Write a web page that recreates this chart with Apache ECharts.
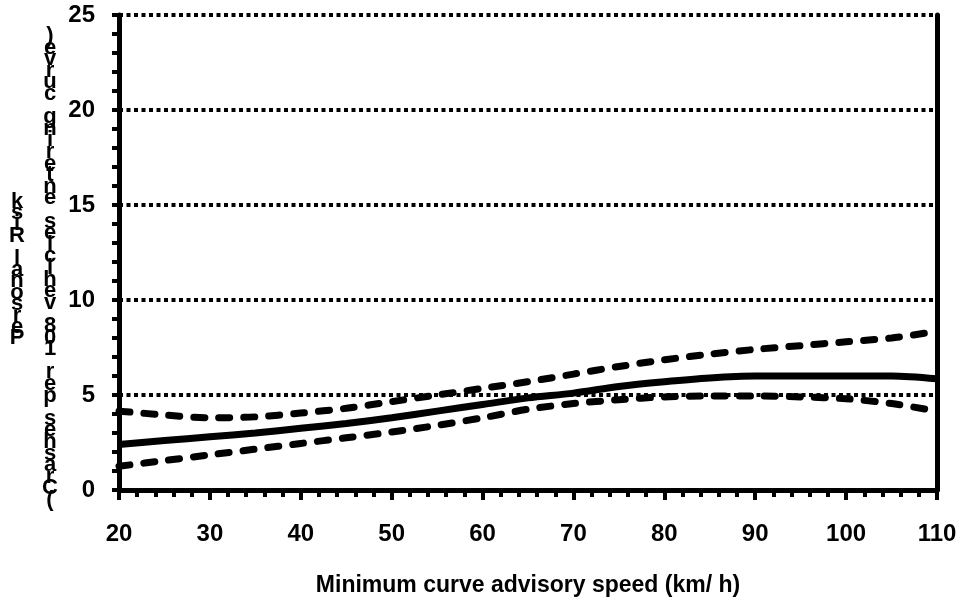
<!DOCTYPE html>
<html>
<head>
<meta charset="utf-8">
<script src="https://cdn.jsdelivr.net/npm/echarts@6/dist/echarts.min.js"></script>
<style>
  html, body { margin: 0; padding: 0; background: #fff; }
  #chart { width: 961px; height: 604px; }
</style>
</head>
<body>
<div id="chart"></div>
<script>
// Minimum curve advisory speed (km/h)
var speeds = [20, 25, 30, 35, 40, 45, 50, 55, 60, 65, 70, 75, 80, 85, 90, 95, 100, 105, 110];
// Expected personal risk
var riskMean  = [2.4, 2.6, 2.8, 3.0, 3.25, 3.5, 3.8, 4.15, 4.5, 4.85, 5.1, 5.45, 5.7, 5.9, 6.0, 6.0, 6.0, 6.0, 5.85];
// Upper and lower bounds
var riskUpper = [4.15, 3.95, 3.8, 3.85, 4.05, 4.3, 4.65, 5.0, 5.35, 5.7, 6.1, 6.5, 6.85, 7.15, 7.4, 7.6, 7.8, 8.0, 8.35];
var riskLower = [1.25, 1.55, 1.85, 2.15, 2.45, 2.75, 3.05, 3.4, 3.8, 4.25, 4.55, 4.75, 4.9, 4.95, 4.95, 4.9, 4.8, 4.55, 4.15];

var xTickValues = [20, 30, 40, 50, 60, 70, 80, 90, 100, 110];
var yTickValues = [0, 5, 10, 15, 20, 25];

var xTitle = 'Minimum curve advisory speed (km/ h)';
var yTitleOuter = 'Personal Risk';
var yTitleInner = '(Crashes per 108 vehicles entering curve)';

var FONT = '"Liberation Sans", Arial, sans-serif';

function pairs(ys) {
  return speeds.map(function (x, i) { return [x, ys[i]]; });
}
// characters stacked one per line, read from the bottom up
function stacked(s) {
  return s.split('').reverse().join('\n');
}

var chart = echarts.init(document.getElementById('chart'), null, { renderer: 'canvas' });

var labelStyle = { color: '#000', fontFamily: FONT, fontWeight: 'bold', fontSize: 24 };
var dashStyle = { color: '#000', width: 7, type: [11, 14], cap: 'round' };

chart.setOption({
  animation: false,
  backgroundColor: '#fff',
  grid: { left: 119, right: 24, top: 15, bottom: 114 },
  xAxis: {
    type: 'value',
    min: xTickValues[0],
    max: xTickValues[xTickValues.length - 1],
    interval: 10,
    axisLine: { show: true, onZero: false, lineStyle: { color: '#000', width: 5 } },
    axisTick: { show: true, length: 10, lineStyle: { color: '#000', width: 4 } },
    minorTick: { show: true, splitNumber: 5, length: 7, lineStyle: { color: '#000', width: 4 } },
    splitLine: { show: false },
    axisLabel: Object.assign({ margin: 32 }, labelStyle),
    name: xTitle,
    nameLocation: 'middle',
    nameGap: 84,
    nameTextStyle: { color: '#000', fontFamily: FONT, fontWeight: 'bold', fontSize: 23 }
  },
  yAxis: [{
    type: 'value',
    min: yTickValues[0],
    max: yTickValues[yTickValues.length - 1],
    interval: 5,
    axisLine: { show: true, lineStyle: { color: '#000', width: 5 } },
    axisTick: { show: true, length: 7, lineStyle: { color: '#000', width: 4 } },
    minorTick: { show: true, splitNumber: 5, length: 7, lineStyle: { color: '#000', width: 4 } },
    splitLine: { show: true, lineStyle: { color: '#000', width: 4, type: [4, 3.5] } },
    axisLabel: Object.assign({ margin: 24 }, labelStyle)
  }, {
    type: 'value',
    position: 'right',
    min: yTickValues[0],
    max: yTickValues[yTickValues.length - 1],
    interval: 5,
    axisLine: { show: true, lineStyle: { color: '#000', width: 5 } },
    axisTick: { show: false },
    axisLabel: { show: false },
    splitLine: { show: false }
  }],
  graphic: [{
    type: 'text',
    x: 17, y: 270,
    style: {
      text: stacked(yTitleOuter),
      fill: '#000',
      font: 'bold 22px ' + FONT,
      lineHeight: 11.4,
      align: 'center',
      verticalAlign: 'middle'
    }
  }, {
    type: 'text',
    x: 50, y: 268,
    style: {
      text: stacked(yTitleInner),
      fill: '#000',
      font: 'bold 22px ' + FONT,
      lineHeight: 11.6,
      align: 'center',
      verticalAlign: 'middle'
    }
  }],
  series: [{
    name: 'Upper',
    type: 'line',
    data: pairs(riskUpper),
    smooth: 0.3,
    symbol: 'none',
    lineStyle: dashStyle
  }, {
    name: 'Mean',
    type: 'line',
    data: pairs(riskMean),
    smooth: 0.3,
    symbol: 'none',
    lineStyle: { color: '#000', width: 7, type: 'solid' }
  }, {
    name: 'Lower',
    type: 'line',
    data: pairs(riskLower),
    smooth: 0.3,
    symbol: 'none',
    lineStyle: dashStyle
  }]
});
</script>
</body>
</html>
